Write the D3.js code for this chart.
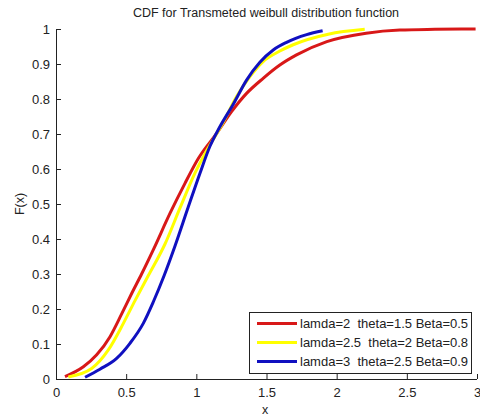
<!DOCTYPE html>
<html>
<head>
<meta charset="utf-8">
<script src="https://cdn.jsdelivr.net/npm/d3@7"></script>
<style>
  html, body { margin: 0; padding: 0; background: #fff; }
  svg text { font-family: "Liberation Sans", Arial, sans-serif; fill: #222; }
</style>
</head>
<body>
<svg id="chart" width="480" height="418"></svg>
<script>
// CDF curves of the transmuted Weibull distribution for three parameter sets
const seriesNames = [
  "lamda=2  theta=1.5 Beta=0.5",
  "lamda=2.5  theta=2 Beta=0.8",
  "lamda=3  theta=2.5 Beta=0.9"
];
const seriesColors = ["#d81818", "#ffff00", "#1010c0"];

const redX = [0.064, 0.195, 0.29, 0.385, 0.468, 0.54, 0.61, 0.693, 0.812, 0.919, 1.014, 1.145, 1.251, 1.358, 1.476, 1.595, 1.714, 1.93, 2.21, 2.45, 2.7, 2.99];
const redY = [0.007, 0.035, 0.069, 0.121, 0.186, 0.245, 0.30, 0.369, 0.473, 0.559, 0.63, 0.702, 0.764, 0.816, 0.859, 0.897, 0.926, 0.964, 0.988, 0.997, 0.999, 1.0];

const yellowX = [0.088, 0.254, 0.373, 0.48, 0.563, 0.657, 0.776, 0.883, 0.99, 1.073, 1.19, 1.287, 1.382, 1.476, 1.595, 1.69, 1.94, 2.2];
const yellowY = [0.006, 0.03, 0.083, 0.159, 0.224, 0.295, 0.385, 0.488, 0.588, 0.652, 0.732, 0.807, 0.864, 0.907, 0.937, 0.955, 0.985, 0.999];

const blueX = [0.207, 0.313, 0.432, 0.527, 0.622, 0.693, 0.77, 0.848, 0.943, 1.026, 1.097, 1.16, 1.263, 1.358, 1.453, 1.548, 1.643, 1.786, 1.90];
const blueY = [0.005, 0.028, 0.059, 0.102, 0.159, 0.22, 0.295, 0.38, 0.492, 0.588, 0.665, 0.715, 0.785, 0.854, 0.905, 0.94, 0.962, 0.984, 0.995];

const xTicks = [0, 0.5, 1, 1.5, 2, 2.5, 3];
const yTicks = [0, 0.1, 0.2, 0.3, 0.4, 0.5, 0.6, 0.7, 0.8, 0.9, 1];

const svg = d3.select("#chart");
const x = d3.scaleLinear().domain([0, 3]).range([56, 477]);
const y = d3.scaleLinear().domain([0, 1]).range([379, 29]);

// curves
const series = [
  d3.zip(redX, redY),
  d3.zip(yellowX, yellowY),
  d3.zip(blueX, blueY)
];
const line = d3.line().x(d => x(d[0])).y(d => y(d[1])).curve(d3.curveMonotoneX);
svg.append("g").selectAll("path").data(series).join("path")
  .attr("d", line)
  .attr("fill", "none")
  .attr("stroke", (d, i) => seriesColors[i])
  .attr("stroke-width", 3)
  .attr("stroke-linejoin", "round");

// axes with inward ticks
const xAxis = svg.append("g").attr("transform", `translate(0,${y(0)})`)
  .call(d3.axisBottom(x).tickValues(xTicks).tickSize(-5).tickPadding(9).tickFormat(d3.format("")));
const yAxis = svg.append("g").attr("transform", `translate(${x(0)},0)`)
  .call(d3.axisLeft(y).tickValues(yTicks).tickSize(-5).tickPadding(6).tickFormat(d3.format("")));
[xAxis, yAxis].forEach(g => {
  g.select(".domain").attr("stroke", "#222");
  g.selectAll(".tick line").attr("stroke", "#222");
  g.selectAll(".tick text").attr("font-size", 13).attr("fill", "#222")
    .style("font-family", "'Liberation Sans', Arial, sans-serif");
});
yAxis.select(".domain").attr("d", `M0.5,${y(1)}V${y(0)}`);
xAxis.select(".domain").attr("d", `M${x(0)},0.5H${x(3)}`);

// title and axis labels
svg.append("text").attr("x", 266).attr("y", 17).attr("text-anchor", "middle")
  .attr("font-size", 12.5).text("CDF for Transmeted weibull distribution function");
svg.append("text").attr("x", 265).attr("y", 414).attr("text-anchor", "middle")
  .attr("font-size", 12.5).text("x");
svg.append("text").attr("transform", "translate(24,204) rotate(-90)")
  .attr("text-anchor", "middle").attr("font-size", 12.5).text("F(x)");

// legend
const lg = svg.append("g");
lg.append("rect").attr("x", 249.5).attr("y", 312.5).attr("width", 222).attr("height", 61)
  .attr("fill", "#fff").attr("stroke", "#222");
const rows = lg.selectAll("g.row").data(seriesNames).join("g")
  .attr("class", "row")
  .attr("transform", (d, i) => `translate(0,${323.5 + i * 19})`);
rows.append("line").attr("x1", 257).attr("x2", 297).attr("y1", 0).attr("y2", 0)
  .attr("stroke", (d, i) => seriesColors[i]).attr("stroke-width", 3);
rows.append("text").attr("x", 300).attr("y", 4.8).attr("font-size", 13)
  .attr("xml:space", "preserve").style("white-space", "pre").text(d => d);
</script>
</body>
</html>
